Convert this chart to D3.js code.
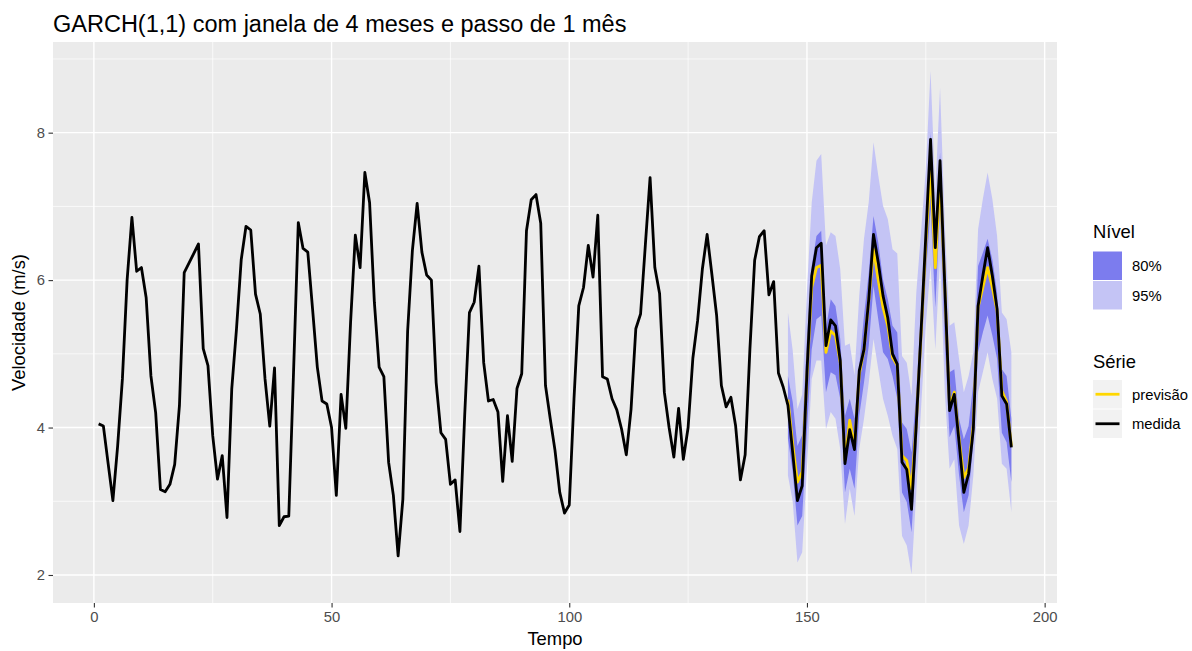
<!DOCTYPE html>
<html><head><meta charset="utf-8">
<script src="https://cdn.jsdelivr.net/npm/d3@7"></script>
<style>body{margin:0;background:#fff}svg{display:block;font-family:"Liberation Sans",Arial,Helvetica,sans-serif}</style>
</head><body><svg id="c" width="1192" height="651"></svg>
<script>
const title = "GARCH(1,1) com janela de 4 meses e passo de 1 mês";
const xLabel = "Tempo", yLabel = "Velocidade (m/s)";
const xTicks = [0, 50, 100, 150, 200];
const yTicks = [2, 4, 6, 8];
const xMinor = [25, 75, 125, 175];
const yMinor = [3, 5, 7, 9];
const levelLabels = ["80%", "95%"];
const seriesLabels = ["previsão", "medida"];

// medida (t = 1..193)
const measured = [4.05,4.02,3.51,3.01,3.75,4.66,6.01,6.85,6.12,6.17,
5.76,4.70,4.20,3.16,3.13,3.23,3.50,4.30,6.10,6.23,
6.36,6.49,5.07,4.84,3.89,3.30,3.62,2.78,4.52,5.34,
6.28,6.73,6.68,5.81,5.54,4.66,4.02,4.81,2.67,2.79,
2.80,4.75,6.78,6.43,6.38,5.61,4.82,4.36,4.32,4.00,
3.08,4.45,3.99,5.43,6.61,6.17,7.46,7.05,5.70,4.82,
4.69,3.53,3.08,2.26,3.03,5.31,6.40,7.04,6.38,6.07,
6.00,4.61,3.93,3.84,3.23,3.29,2.59,4.16,5.56,5.70,
6.19,4.88,4.36,4.38,4.21,3.27,4.16,3.54,4.53,4.73,
6.67,7.09,7.16,6.77,4.57,4.12,3.69,3.12,2.84,2.95,
4.39,5.65,5.90,6.47,6.04,6.88,4.69,4.66,4.39,4.24,
3.98,3.63,4.25,5.34,5.54,6.47,7.39,6.17,5.82,4.48,
4.00,3.60,4.26,3.57,4.00,4.94,5.45,6.15,6.62,6.08,
5.52,4.57,4.28,4.41,4.02,3.29,3.63,5.06,6.27,6.59,
6.67,5.80,5.98,4.74,4.55,4.30,3.66,3.01,3.21,4.75,
6.06,6.44,6.50,5.11,5.46,5.38,4.91,3.51,3.97,3.70,
4.77,5.06,5.74,6.62,6.24,5.79,5.49,5.00,4.86,3.53,
3.43,2.89,4.05,5.30,6.60,7.91,6.44,7.62,5.92,4.23,
4.45,3.80,3.12,3.37,3.98,5.65,6.06,6.44,6.06,5.61,
4.43,4.32,3.73];

// previsão and intervals (t = 146..193)
const fcStart = 146;
const forecast = [4.38,3.78,3.26,3.40,4.70,5.90,6.17,6.20,5.02,5.31,
5.25,4.88,3.55,4.10,3.75,4.72,5.05,5.72,6.42,6.00,
5.63,5.38,4.95,4.84,3.62,3.55,3.17,4.05,5.25,6.50,
7.50,6.17,7.40,5.90,4.28,4.48,3.85,3.32,3.45,4.05,
5.63,5.90,6.17,5.90,5.58,4.50,4.35,3.75];
const lo95 = [3.35,3.00,2.17,2.31,3.45,4.66,4.91,4.91,3.98,4.21,
4.12,3.71,2.69,3.17,2.80,3.71,4.12,4.61,5.20,4.79,
4.39,4.16,3.89,3.71,2.53,2.40,2.01,3.12,4.25,5.38,
6.20,5.06,6.30,4.48,3.44,3.57,2.67,2.42,2.67,3.35,
4.48,4.75,5.02,4.66,4.39,3.51,3.44,2.85];
const lo80 = [3.85,3.40,2.67,2.80,3.95,5.06,5.47,5.52,4.48,4.75,
4.71,4.39,3.12,3.44,3.17,4.16,4.61,5.11,5.92,5.47,
5.02,4.93,4.70,4.39,3.12,2.99,2.58,3.66,4.93,6.06,
6.96,5.63,6.96,5.15,3.87,4.02,3.35,2.85,3.08,3.80,
5.02,5.29,5.52,5.25,4.93,3.93,3.80,3.26];
const hi80 = [4.70,4.35,3.75,3.90,5.20,6.19,6.60,6.67,5.34,5.74,
5.65,5.20,4.16,4.39,4.12,4.84,5.52,6.10,6.87,6.51,
6.01,5.74,5.38,5.29,4.07,3.98,3.66,4.48,5.61,6.74,
8.00,6.47,7.73,6.06,4.75,4.79,4.12,3.84,4.02,4.61,
6.19,6.37,6.56,6.28,5.83,4.79,4.70,4.12];
const hi95 = [5.56,5.05,4.25,4.45,5.85,7.05,7.62,7.71,6.47,6.65,
6.60,6.15,5.11,5.14,4.71,5.79,6.56,7.06,7.87,7.42,
7.01,6.83,6.42,6.36,4.97,4.88,4.43,5.83,6.65,7.50,
8.84,7.19,8.61,6.74,5.38,5.43,4.93,4.48,4.70,5.02,
6.69,7.10,7.46,7.10,6.60,5.56,5.47,5.02];

const col = {bg:"#EBEBEB", band80:"#7C7CEE", band95:"#C4C4F5", fc:"#FFD700", meas:"#000000"};

const svg = d3.select("#c");
const P = {l:53, r:1057, t:42, b:603};
const x = d3.scaleLinear().domain([-8.6, 202.6]).range([P.l, P.r]);
const y = d3.scaleLinear().domain([1.62, 9.23]).range([P.b, P.t]);

svg.append("rect").attr("x",P.l).attr("y",P.t).attr("width",P.r-P.l).attr("height",P.b-P.t).attr("fill",col.bg);

const grid = svg.append("g");
xMinor.forEach(v=>grid.append("line").attr("x1",x(v)).attr("x2",x(v)).attr("y1",P.t).attr("y2",P.b).attr("stroke","#fff").attr("stroke-width",0.7));
yMinor.forEach(v=>grid.append("line").attr("y1",y(v)).attr("y2",y(v)).attr("x1",P.l).attr("x2",P.r).attr("stroke","#fff").attr("stroke-width",0.7));
xTicks.forEach(v=>grid.append("line").attr("x1",x(v)).attr("x2",x(v)).attr("y1",P.t).attr("y2",P.b).attr("stroke","#fff").attr("stroke-width",1.4));
yTicks.forEach(v=>grid.append("line").attr("y1",y(v)).attr("y2",y(v)).attr("x1",P.l).attr("x2",P.r).attr("stroke","#fff").attr("stroke-width",1.4));

const fcData = forecast.map((f,i)=>({t:fcStart+i, f, lo95:lo95[i], lo80:lo80[i], hi80:hi80[i], hi95:hi95[i]}));
const measData = measured.map((v,i)=>({t:i+1, v}));

const plot = svg.append("g");
plot.append("path").datum(fcData).attr("fill",col.band95)
  .attr("d", d3.area().x(d=>x(d.t)).y0(d=>y(d.lo95)).y1(d=>y(d.hi95)));
plot.append("path").datum(fcData).attr("fill",col.band80)
  .attr("d", d3.area().x(d=>x(d.t)).y0(d=>y(d.lo80)).y1(d=>y(d.hi80)));
plot.append("path").datum(fcData).attr("fill","none").attr("stroke",col.fc).attr("stroke-width",2.8)
  .attr("stroke-linejoin","round").attr("d", d3.line().x(d=>x(d.t)).y(d=>y(d.f)));
plot.append("path").datum(measData).attr("fill","none").attr("stroke",col.meas).attr("stroke-width",2.8)
  .attr("stroke-linejoin","round").attr("d", d3.line().x(d=>x(d.t)).y(d=>y(d.v)));

// axes
const xAxis = d3.axisBottom(x).tickValues(xTicks).tickSize(4.5).tickPadding(3.5);
const gx = svg.append("g").attr("transform",`translate(0,${P.b})`).call(xAxis);
const yAxis = d3.axisLeft(y).tickValues(yTicks).tickSize(4.5).tickPadding(3.5);
const gy = svg.append("g").attr("transform",`translate(${P.l},0)`).call(yAxis);
[gx,gy].forEach(g=>{
  g.select(".domain").remove();
  g.selectAll(".tick line").attr("stroke","#333").attr("stroke-width",1.1);
  g.selectAll(".tick text").attr("fill","#4D4D4D").style("font-size","14.8px").style("font-family",'"Liberation Sans",Arial,sans-serif');
});

svg.append("text").attr("x",P.l).attr("y",32).style("font-size","23.5px").attr("fill","#000").text(title);
svg.append("text").attr("x",(P.l+P.r)/2).attr("y",645).attr("text-anchor","middle").style("font-size","18.4px").text(xLabel);
svg.append("text").attr("transform",`translate(25,${(P.t+P.b)/2}) rotate(-90)`).attr("text-anchor","middle").style("font-size","18.4px").text(yLabel);

// legend
const L = svg.append("g");
const kx = 1093, kw = 29;
L.append("text").attr("x",kx).attr("y",238).style("font-size","18.4px").text("Nível");
[[col.band80,251.5],[col.band95,281]].forEach(([c,yy],i)=>{
  L.append("rect").attr("x",kx).attr("y",yy).attr("width",kw).attr("height",28.5).attr("fill",c);
  L.append("text").attr("x",1132).attr("y",yy+14.25+5.3).style("font-size","14.8px").text(levelLabels[i]);
});
L.append("text").attr("x",kx).attr("y",368).style("font-size","18.4px").text("Série");
[[col.fc,380],[col.meas,409.5]].forEach(([c,yy],i)=>{
  L.append("rect").attr("x",kx).attr("y",yy).attr("width",kw).attr("height",28.5).attr("fill","#F2F2F2");
  L.append("line").attr("x1",kx+2.5).attr("x2",kx+kw-2.5).attr("y1",yy+14.25).attr("y2",yy+14.25).attr("stroke",c).attr("stroke-width",2.8);
  L.append("text").attr("x",1132).attr("y",yy+14.25+5.3).style("font-size","14.8px").text(seriesLabels[i]);
});
</script></body></html>
